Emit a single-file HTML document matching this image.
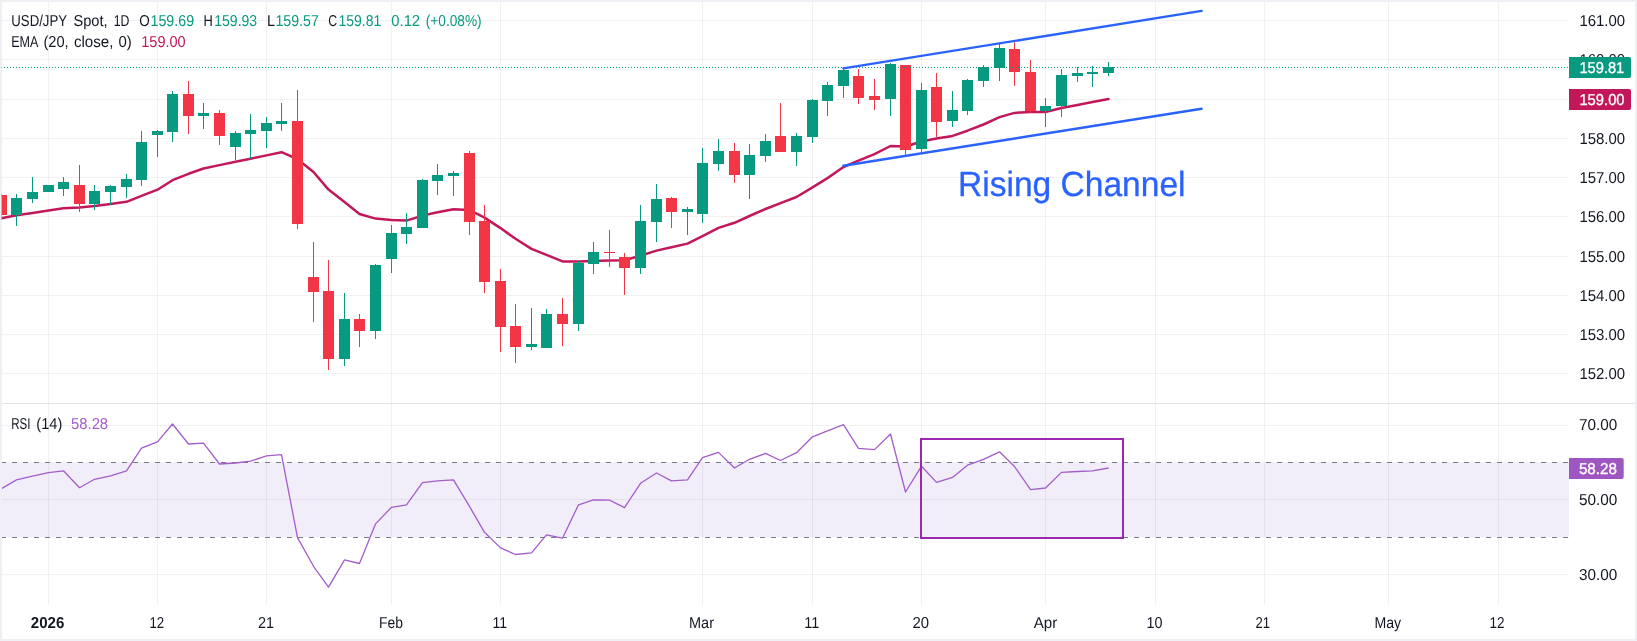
<!DOCTYPE html>
<html><head><meta charset="utf-8"><title>USD/JPY</title>
<style>html,body{margin:0;padding:0;background:#fff;width:1637px;height:641px;overflow:hidden}svg{display:block;will-change:transform;text-rendering:geometricPrecision;font-family:"Liberation Sans",sans-serif}text{font-family:"Liberation Sans",sans-serif}</style></head><body>
<svg width="1637" height="641" viewBox="0 0 1637 641">
<rect x="0" y="462" width="1569" height="75" fill="#f1eef9"/>
<g stroke="rgba(42,46,57,0.065)" stroke-width="1" shape-rendering="crispEdges">
<line x1="48.5" y1="2" x2="48.5" y2="604.5"/>
<line x1="157.5" y1="2" x2="157.5" y2="604.5"/>
<line x1="266.5" y1="2" x2="266.5" y2="604.5"/>
<line x1="391.5" y1="2" x2="391.5" y2="604.5"/>
<line x1="500.5" y1="2" x2="500.5" y2="604.5"/>
<line x1="702.5" y1="2" x2="702.5" y2="604.5"/>
<line x1="812.5" y1="2" x2="812.5" y2="604.5"/>
<line x1="921.5" y1="2" x2="921.5" y2="604.5"/>
<line x1="1045.5" y1="2" x2="1045.5" y2="604.5"/>
<line x1="1155.5" y1="2" x2="1155.5" y2="604.5"/>
<line x1="1264.5" y1="2" x2="1264.5" y2="604.5"/>
<line x1="1388.5" y1="2" x2="1388.5" y2="604.5"/>
<line x1="1498.5" y1="2" x2="1498.5" y2="604.5"/>
<line x1="0" y1="373.5" x2="1569" y2="373.5"/>
<line x1="0" y1="334.5" x2="1569" y2="334.5"/>
<line x1="0" y1="295.5" x2="1569" y2="295.5"/>
<line x1="0" y1="256.5" x2="1569" y2="256.5"/>
<line x1="0" y1="216.5" x2="1569" y2="216.5"/>
<line x1="0" y1="177.5" x2="1569" y2="177.5"/>
<line x1="0" y1="138.5" x2="1569" y2="138.5"/>
<line x1="0" y1="99.5" x2="1569" y2="99.5"/>
<line x1="0" y1="59.5" x2="1569" y2="59.5"/>
<line x1="0" y1="20.5" x2="1569" y2="20.5"/>
<line x1="0" y1="425.5" x2="1569" y2="425.5"/>
<line x1="0" y1="499.5" x2="1569" y2="499.5"/>
<line x1="0" y1="574.5" x2="1569" y2="574.5"/>
</g>
<line x1="0" y1="403.5" x2="1637" y2="403.5" stroke="#e0e3eb" stroke-width="1" shape-rendering="crispEdges"/>
<line x1="1" y1="462.5" x2="1569" y2="462.5" stroke="#787b86" stroke-width="1" stroke-dasharray="5 6" shape-rendering="crispEdges"/>
<line x1="1" y1="537.5" x2="1569" y2="537.5" stroke="#787b86" stroke-width="1" stroke-dasharray="5 6" shape-rendering="crispEdges"/>
<polyline points="1.5,218.2 16.5,215.2 32.5,213.0 48.5,210.5 63.5,208.3 79.5,207.5 94.5,206.0 110.5,204.0 126.5,201.8 141.5,195.8 157.5,189.7 172.5,180.2 188.5,173.8 203.5,168.5 219.5,165.1 235.5,161.7 250.5,158.7 266.5,155.4 281.5,152.2 297.5,159.2 313.5,172.0 328.5,189.6 344.5,202.1 359.5,214.0 375.5,218.6 391.5,220.0 406.5,220.6 422.5,215.6 437.5,212.2 453.5,209.2 469.5,210.0 484.5,217.6 500.5,228.1 515.5,238.8 531.5,248.9 546.5,254.9 562.5,261.4 578.5,261.4 593.5,261.0 609.5,260.4 624.5,260.3 640.5,255.7 656.5,250.6 671.5,247.2 687.5,243.6 702.5,236.1 718.5,227.9 734.5,222.8 749.5,216.0 765.5,209.0 780.5,203.1 796.5,197.0 812.5,187.4 827.5,178.1 843.5,167.0 858.5,160.6 874.5,154.1 890.5,146.0 905.5,146.5 921.5,141.5 936.5,138.6 952.5,135.9 967.5,130.7 983.5,124.5 999.5,117.1 1014.5,112.9 1030.5,112.1 1045.5,112.0 1061.5,108.0 1077.5,105.0 1092.5,102.0 1108.5,99.0" fill="none" stroke="#c2185b" stroke-width="2.5" stroke-linejoin="round" stroke-linecap="round"/>
<g shape-rendering="crispEdges">
<rect x="1" y="195" width="1" height="20" fill="#f23645"/>
<rect x="-4" y="195" width="11" height="20" fill="#f23645"/>
<rect x="16" y="194" width="1" height="32" fill="#089981"/>
<rect x="11" y="198" width="11" height="17" fill="#089981"/>
<rect x="32" y="177" width="1" height="26" fill="#089981"/>
<rect x="27" y="192" width="11" height="7" fill="#089981"/>
<rect x="48" y="185" width="1" height="7" fill="#089981"/>
<rect x="43" y="185" width="11" height="7" fill="#089981"/>
<rect x="63" y="177" width="1" height="19" fill="#089981"/>
<rect x="58" y="182" width="11" height="7" fill="#089981"/>
<rect x="79" y="165" width="1" height="47" fill="#f23645"/>
<rect x="74" y="185" width="11" height="19" fill="#f23645"/>
<rect x="94" y="185" width="1" height="25" fill="#089981"/>
<rect x="89" y="191" width="11" height="13" fill="#089981"/>
<rect x="110" y="185" width="1" height="20" fill="#089981"/>
<rect x="105" y="186" width="11" height="6" fill="#089981"/>
<rect x="126" y="174" width="1" height="24" fill="#089981"/>
<rect x="121" y="179" width="11" height="8" fill="#089981"/>
<rect x="141" y="131" width="1" height="55" fill="#089981"/>
<rect x="136" y="142" width="11" height="38" fill="#089981"/>
<rect x="157" y="130" width="1" height="27" fill="#089981"/>
<rect x="152" y="131" width="11" height="4" fill="#089981"/>
<rect x="172" y="91" width="1" height="51" fill="#089981"/>
<rect x="167" y="94" width="11" height="38" fill="#089981"/>
<rect x="188" y="81" width="1" height="53" fill="#f23645"/>
<rect x="183" y="94" width="11" height="22" fill="#f23645"/>
<rect x="203" y="103" width="1" height="26" fill="#089981"/>
<rect x="198" y="113" width="11" height="3" fill="#089981"/>
<rect x="219" y="110" width="1" height="35" fill="#f23645"/>
<rect x="214" y="113" width="11" height="23" fill="#f23645"/>
<rect x="235" y="131" width="1" height="29" fill="#089981"/>
<rect x="230" y="133" width="11" height="14" fill="#089981"/>
<rect x="250" y="114" width="1" height="45" fill="#089981"/>
<rect x="245" y="130" width="11" height="4" fill="#089981"/>
<rect x="266" y="117" width="1" height="31" fill="#089981"/>
<rect x="261" y="123" width="11" height="8" fill="#089981"/>
<rect x="281" y="103" width="1" height="28" fill="#089981"/>
<rect x="276" y="121" width="11" height="3" fill="#089981"/>
<rect x="297" y="90" width="1" height="139" fill="#f23645"/>
<rect x="292" y="121" width="11" height="103" fill="#f23645"/>
<rect x="313" y="242" width="1" height="80" fill="#f23645"/>
<rect x="308" y="277" width="11" height="15" fill="#f23645"/>
<rect x="328" y="260" width="1" height="110" fill="#f23645"/>
<rect x="323" y="291" width="11" height="68" fill="#f23645"/>
<rect x="344" y="293" width="1" height="73" fill="#089981"/>
<rect x="339" y="319" width="11" height="40" fill="#089981"/>
<rect x="359" y="314" width="1" height="33" fill="#f23645"/>
<rect x="354" y="319" width="11" height="12" fill="#f23645"/>
<rect x="375" y="264" width="1" height="75" fill="#089981"/>
<rect x="370" y="265" width="11" height="66" fill="#089981"/>
<rect x="391" y="225" width="1" height="48" fill="#089981"/>
<rect x="386" y="233" width="11" height="26" fill="#089981"/>
<rect x="406" y="213" width="1" height="31" fill="#089981"/>
<rect x="401" y="227" width="11" height="7" fill="#089981"/>
<rect x="422" y="179" width="1" height="49" fill="#089981"/>
<rect x="417" y="180" width="11" height="48" fill="#089981"/>
<rect x="437" y="164" width="1" height="31" fill="#089981"/>
<rect x="432" y="175" width="11" height="6" fill="#089981"/>
<rect x="453" y="171" width="1" height="25" fill="#089981"/>
<rect x="448" y="173" width="11" height="3" fill="#089981"/>
<rect x="469" y="151" width="1" height="84" fill="#f23645"/>
<rect x="464" y="153" width="11" height="69" fill="#f23645"/>
<rect x="484" y="205" width="1" height="88" fill="#f23645"/>
<rect x="479" y="221" width="11" height="61" fill="#f23645"/>
<rect x="500" y="269" width="1" height="83" fill="#f23645"/>
<rect x="495" y="281" width="11" height="46" fill="#f23645"/>
<rect x="515" y="304" width="1" height="59" fill="#f23645"/>
<rect x="510" y="326" width="11" height="21" fill="#f23645"/>
<rect x="531" y="308" width="1" height="42" fill="#089981"/>
<rect x="526" y="344" width="11" height="3" fill="#089981"/>
<rect x="546" y="309" width="1" height="39" fill="#089981"/>
<rect x="541" y="314" width="11" height="34" fill="#089981"/>
<rect x="562" y="298" width="1" height="48" fill="#f23645"/>
<rect x="557" y="314" width="11" height="10" fill="#f23645"/>
<rect x="578" y="261" width="1" height="70" fill="#089981"/>
<rect x="573" y="263" width="11" height="61" fill="#089981"/>
<rect x="593" y="242" width="1" height="32" fill="#089981"/>
<rect x="588" y="252" width="11" height="12" fill="#089981"/>
<rect x="609" y="230" width="1" height="37" fill="#f23645"/>
<rect x="604" y="252" width="11" height="1" fill="#f23645"/>
<rect x="624" y="253" width="1" height="42" fill="#f23645"/>
<rect x="619" y="257" width="11" height="11" fill="#f23645"/>
<rect x="640" y="205" width="1" height="69" fill="#089981"/>
<rect x="635" y="221" width="11" height="47" fill="#089981"/>
<rect x="656" y="184" width="1" height="58" fill="#089981"/>
<rect x="651" y="199" width="11" height="23" fill="#089981"/>
<rect x="671" y="197" width="1" height="31" fill="#f23645"/>
<rect x="666" y="198" width="11" height="14" fill="#f23645"/>
<rect x="687" y="207" width="1" height="28" fill="#089981"/>
<rect x="682" y="209" width="11" height="3" fill="#089981"/>
<rect x="702" y="148" width="1" height="75" fill="#089981"/>
<rect x="697" y="163" width="11" height="51" fill="#089981"/>
<rect x="718" y="139" width="1" height="32" fill="#089981"/>
<rect x="713" y="151" width="11" height="13" fill="#089981"/>
<rect x="734" y="143" width="1" height="40" fill="#f23645"/>
<rect x="729" y="151" width="11" height="24" fill="#f23645"/>
<rect x="749" y="144" width="1" height="55" fill="#089981"/>
<rect x="744" y="155" width="11" height="20" fill="#089981"/>
<rect x="765" y="134" width="1" height="28" fill="#089981"/>
<rect x="760" y="141" width="11" height="15" fill="#089981"/>
<rect x="780" y="103" width="1" height="49" fill="#f23645"/>
<rect x="775" y="136" width="11" height="16" fill="#f23645"/>
<rect x="796" y="133" width="1" height="33" fill="#089981"/>
<rect x="791" y="136" width="11" height="16" fill="#089981"/>
<rect x="812" y="99" width="1" height="44" fill="#089981"/>
<rect x="807" y="100" width="11" height="37" fill="#089981"/>
<rect x="827" y="82" width="1" height="34" fill="#089981"/>
<rect x="822" y="85" width="11" height="16" fill="#089981"/>
<rect x="843" y="68" width="1" height="30" fill="#089981"/>
<rect x="838" y="70" width="11" height="16" fill="#089981"/>
<rect x="858" y="69" width="1" height="35" fill="#f23645"/>
<rect x="853" y="76" width="11" height="22" fill="#f23645"/>
<rect x="874" y="79" width="1" height="31" fill="#f23645"/>
<rect x="869" y="96" width="11" height="4" fill="#f23645"/>
<rect x="890" y="63" width="1" height="53" fill="#089981"/>
<rect x="885" y="64" width="11" height="35" fill="#089981"/>
<rect x="905" y="65" width="1" height="92" fill="#f23645"/>
<rect x="900" y="65" width="11" height="85" fill="#f23645"/>
<rect x="921" y="83" width="1" height="70" fill="#089981"/>
<rect x="916" y="90" width="11" height="59" fill="#089981"/>
<rect x="936" y="73" width="1" height="64" fill="#f23645"/>
<rect x="931" y="87" width="11" height="35" fill="#f23645"/>
<rect x="952" y="91" width="1" height="36" fill="#089981"/>
<rect x="947" y="110" width="11" height="11" fill="#089981"/>
<rect x="967" y="79" width="1" height="36" fill="#089981"/>
<rect x="962" y="80" width="11" height="31" fill="#089981"/>
<rect x="983" y="65" width="1" height="22" fill="#089981"/>
<rect x="978" y="67" width="11" height="14" fill="#089981"/>
<rect x="999" y="43" width="1" height="38" fill="#089981"/>
<rect x="994" y="48" width="11" height="20" fill="#089981"/>
<rect x="1014" y="41" width="1" height="45" fill="#f23645"/>
<rect x="1009" y="49" width="11" height="23" fill="#f23645"/>
<rect x="1030" y="60" width="1" height="53" fill="#f23645"/>
<rect x="1025" y="72" width="11" height="39" fill="#f23645"/>
<rect x="1045" y="98" width="1" height="29" fill="#089981"/>
<rect x="1040" y="106" width="11" height="5" fill="#089981"/>
<rect x="1061" y="69" width="1" height="48" fill="#089981"/>
<rect x="1056" y="75" width="11" height="31" fill="#089981"/>
<rect x="1077" y="67" width="1" height="15" fill="#089981"/>
<rect x="1072" y="73" width="11" height="3" fill="#089981"/>
<rect x="1092" y="66" width="1" height="21" fill="#089981"/>
<rect x="1087" y="72" width="11" height="2" fill="#089981"/>
<rect x="1108" y="62" width="1" height="14" fill="#089981"/>
<rect x="1103" y="67" width="11" height="6" fill="#089981"/>
</g>
<line x1="1" y1="67.5" x2="1569" y2="67.5" stroke="#089981" stroke-width="1" stroke-dasharray="1 2" shape-rendering="crispEdges"/>
<line x1="843.4" y1="68.4" x2="1201.6" y2="10.85" stroke="#2962ff" stroke-width="2.4" stroke-linecap="round"/>
<line x1="843.4" y1="165.7" x2="1201.6" y2="108.75" stroke="#2962ff" stroke-width="2.4" stroke-linecap="round"/>
<text x="958" y="195.7" font-size="35.0" fill="#2962ff" stroke="#2962ff" stroke-width="0.3" textLength="227.5" lengthAdjust="spacingAndGlyphs">Rising Channel</text>
<polyline points="1.5,488.6 16.5,479.9 32.5,476.1 48.5,472.7 63.5,470.8 79.5,487.7 94.5,479.3 110.5,475.8 126.5,470.8 141.5,448.1 157.5,441.8 172.5,424.0 188.5,444.0 203.5,443.1 219.5,464.0 235.5,463.0 250.5,461.2 266.5,455.9 281.5,454.6 297.5,537.6 313.5,566.3 328.5,587.2 344.5,559.8 359.5,563.5 375.5,523.9 391.5,507.3 406.5,504.8 422.5,482.7 437.5,480.8 453.5,479.9 469.5,506.4 484.5,532.3 500.5,547.9 515.5,554.5 531.5,552.9 546.5,534.8 562.5,538.2 578.5,504.8 593.5,499.9 609.5,500.2 624.5,507.7 640.5,483.3 656.5,473.0 671.5,480.8 687.5,479.9 702.5,457.7 718.5,452.4 734.5,468.0 749.5,459.3 765.5,453.4 780.5,460.5 796.5,452.7 812.5,436.8 827.5,430.9 843.5,424.7 858.5,448.4 874.5,449.6 890.5,434.0 905.5,492.0 921.5,466.2 936.5,482.4 952.5,477.4 967.5,465.2 983.5,459.3 999.5,451.8 1014.5,466.5 1030.5,489.6 1045.5,488.0 1061.5,472.4 1077.5,471.5 1092.5,470.8 1108.5,468.0" fill="none" stroke="#a35dcb" stroke-width="1.3" stroke-linejoin="round"/>
<rect x="921" y="439" width="202" height="99" fill="none" stroke="#9c27b0" stroke-width="2"/>
<text x="11.3" y="26.0" font-size="15.8" fill="#131722" textLength="55.8" lengthAdjust="spacingAndGlyphs">USD/JPY</text>
<text x="73.4" y="26.0" font-size="15.8" fill="#131722" textLength="34.2" lengthAdjust="spacingAndGlyphs">Spot,</text>
<text x="113.7" y="26.0" font-size="15.8" fill="#131722" textLength="15.7" lengthAdjust="spacingAndGlyphs">1D</text>
<text x="139.3" y="26.0" font-size="15.8" fill="#131722" textLength="10.5" lengthAdjust="spacingAndGlyphs">O</text>
<text x="150.5" y="26.0" font-size="15.8" fill="#089981" textLength="43.6" lengthAdjust="spacingAndGlyphs">159.69</text>
<text x="203.4" y="26.0" font-size="15.8" fill="#131722" textLength="9.3" lengthAdjust="spacingAndGlyphs">H</text>
<text x="214.2" y="26.0" font-size="15.8" fill="#089981" textLength="43.0" lengthAdjust="spacingAndGlyphs">159.93</text>
<text x="266.9" y="26.0" font-size="15.8" fill="#131722" textLength="8.1" lengthAdjust="spacingAndGlyphs">L</text>
<text x="275.4" y="26.0" font-size="15.8" fill="#089981" textLength="43.4" lengthAdjust="spacingAndGlyphs">159.57</text>
<text x="328.3" y="26.0" font-size="15.8" fill="#131722" textLength="8.9" lengthAdjust="spacingAndGlyphs">C</text>
<text x="338.5" y="26.0" font-size="15.8" fill="#089981" textLength="42.8" lengthAdjust="spacingAndGlyphs">159.81</text>
<text x="391.3" y="26.0" font-size="15.8" fill="#089981" textLength="28.8" lengthAdjust="spacingAndGlyphs">0.12</text>
<text x="425.7" y="26.0" font-size="15.8" fill="#089981" textLength="56.0" lengthAdjust="spacingAndGlyphs">(+0.08%)</text>
<text x="11.2" y="47.0" font-size="15.8" fill="#131722" textLength="27.2" lengthAdjust="spacingAndGlyphs">EMA</text>
<text x="43.4" y="47.0" font-size="15.8" fill="#131722" textLength="25.2" lengthAdjust="spacingAndGlyphs">(20,</text>
<text x="73.9" y="47.0" font-size="15.8" fill="#131722" textLength="39.5" lengthAdjust="spacingAndGlyphs">close,</text>
<text x="118.5" y="47.0" font-size="15.8" fill="#131722" textLength="13.3" lengthAdjust="spacingAndGlyphs">0)</text>
<text x="141.3" y="47.0" font-size="15.8" fill="#c2185b" textLength="44.4" lengthAdjust="spacingAndGlyphs">159.00</text>
<text x="11.2" y="429.0" font-size="15.8" fill="#131722" textLength="19.2" lengthAdjust="spacingAndGlyphs">RSI</text>
<text x="36.3" y="429.0" font-size="15.8" fill="#131722" textLength="26.0" lengthAdjust="spacingAndGlyphs">(14)</text>
<text x="71.1" y="429.0" font-size="15.8" fill="#a35dcb" textLength="37.0" lengthAdjust="spacingAndGlyphs">58.28</text>
<text x="30.8" y="628.0" font-size="15.8" fill="#131722" font-weight="bold" textLength="33.5" lengthAdjust="spacingAndGlyphs">2026</text>
<text x="149.5" y="628.0" font-size="15.8" fill="#131722" textLength="14.7" lengthAdjust="spacingAndGlyphs">12</text>
<text x="258.0" y="628.0" font-size="15.8" fill="#131722" textLength="16.0" lengthAdjust="spacingAndGlyphs">21</text>
<text x="379.0" y="628.0" font-size="15.8" fill="#131722" textLength="23.9" lengthAdjust="spacingAndGlyphs">Feb</text>
<text x="492.5" y="628.0" font-size="15.8" fill="#131722" textLength="14.5" lengthAdjust="spacingAndGlyphs">11</text>
<text x="689.0" y="628.0" font-size="15.8" fill="#131722" textLength="25.0" lengthAdjust="spacingAndGlyphs">Mar</text>
<text x="804.2" y="628.0" font-size="15.8" fill="#131722" textLength="15.0" lengthAdjust="spacingAndGlyphs">11</text>
<text x="912.5" y="628.0" font-size="15.8" fill="#131722" textLength="16.6" lengthAdjust="spacingAndGlyphs">20</text>
<text x="1033.8" y="628.0" font-size="15.8" fill="#131722" textLength="23.5" lengthAdjust="spacingAndGlyphs">Apr</text>
<text x="1146.6" y="628.0" font-size="15.8" fill="#131722" textLength="16.0" lengthAdjust="spacingAndGlyphs">10</text>
<text x="1255.6" y="628.0" font-size="15.8" fill="#131722" textLength="14.5" lengthAdjust="spacingAndGlyphs">21</text>
<text x="1374.4" y="628.0" font-size="15.8" fill="#131722" textLength="26.7" lengthAdjust="spacingAndGlyphs">May</text>
<text x="1489.6" y="628.0" font-size="15.8" fill="#131722" textLength="15.0" lengthAdjust="spacingAndGlyphs">12</text>
<text x="1579.4" y="379.0" font-size="15.8" fill="#131722" textLength="45.8" lengthAdjust="spacingAndGlyphs">152.00</text>
<text x="1579.4" y="340.0" font-size="15.8" fill="#131722" textLength="45.8" lengthAdjust="spacingAndGlyphs">153.00</text>
<text x="1579.4" y="301.0" font-size="15.8" fill="#131722" textLength="45.8" lengthAdjust="spacingAndGlyphs">154.00</text>
<text x="1579.4" y="262.0" font-size="15.8" fill="#131722" textLength="45.8" lengthAdjust="spacingAndGlyphs">155.00</text>
<text x="1579.4" y="222.0" font-size="15.8" fill="#131722" textLength="45.8" lengthAdjust="spacingAndGlyphs">156.00</text>
<text x="1579.4" y="183.0" font-size="15.8" fill="#131722" textLength="45.8" lengthAdjust="spacingAndGlyphs">157.00</text>
<text x="1579.4" y="144.0" font-size="15.8" fill="#131722" textLength="45.8" lengthAdjust="spacingAndGlyphs">158.00</text>
<text x="1579.4" y="105.0" font-size="15.8" fill="#131722" textLength="45.8" lengthAdjust="spacingAndGlyphs">159.00</text>
<text x="1579.4" y="65.0" font-size="15.8" fill="#131722" textLength="45.8" lengthAdjust="spacingAndGlyphs">160.00</text>
<text x="1579.4" y="26.0" font-size="15.8" fill="#131722" textLength="45.8" lengthAdjust="spacingAndGlyphs">161.00</text>
<text x="1579.0" y="430.0" font-size="15.8" fill="#131722" textLength="38.4" lengthAdjust="spacingAndGlyphs">70.00</text>
<text x="1579.0" y="505.0" font-size="15.8" fill="#131722" textLength="38.4" lengthAdjust="spacingAndGlyphs">50.00</text>
<text x="1579.0" y="580.0" font-size="15.8" fill="#131722" textLength="38.4" lengthAdjust="spacingAndGlyphs">30.00</text>
<path d="M1569 57.0 H1629.0 a2 2 0 0 1 2 2 V76.0 a2 2 0 0 1 -2 2 H1569 Z" fill="#089981"/>
<text x="1579.4" y="73.0" font-size="15.8" fill="#ffffff" stroke="#ffffff" stroke-width="0.3" textLength="44.9" lengthAdjust="spacingAndGlyphs">159.81</text>
<path d="M1569 89.0 H1629.0 a2 2 0 0 1 2 2 V108.0 a2 2 0 0 1 -2 2 H1569 Z" fill="#c2185b"/>
<text x="1579.4" y="105.0" font-size="15.8" fill="#ffffff" stroke="#ffffff" stroke-width="0.3" textLength="45.2" lengthAdjust="spacingAndGlyphs">159.00</text>
<path d="M1569 458.0 H1621.7 a2 2 0 0 1 2 2 V477.0 a2 2 0 0 1 -2 2 H1569 Z" fill="#9e57c2"/>
<text x="1578.9" y="474.0" font-size="15.8" fill="#ffffff" stroke="#ffffff" stroke-width="0.3" textLength="38.0" lengthAdjust="spacingAndGlyphs">58.28</text>
<rect x="0" y="0" width="1637" height="2" fill="#eef0f4"/>
<rect x="0" y="0" width="2" height="641" fill="#eef0f4"/>
<rect x="1635" y="0" width="2" height="641" fill="#eef0f4"/>
<rect x="0" y="639" width="1637" height="2" fill="#eef0f4"/>
<rect x="1" y="194" width="1" height="26" fill="#f23645" opacity="0.45" shape-rendering="crispEdges"/>
<rect x="1" y="67" width="1" height="1" fill="#089981" opacity="0.45" shape-rendering="crispEdges"/>
</svg></body></html>
